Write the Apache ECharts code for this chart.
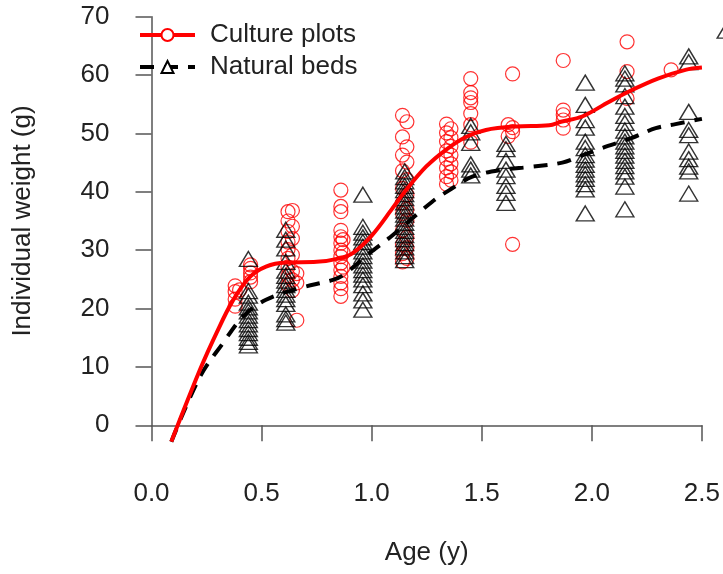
<!DOCTYPE html>
<html>
<head>
<meta charset="utf-8">
<script src="https://cdn.jsdelivr.net/npm/echarts@6/dist/echarts.min.js"></script>
<style>
  html, body { margin: 0; padding: 0; background: #fff; }
  #chart { width: 723px; height: 574px; }
</style>
</head>
<body>
<div id="chart"></div>
<script>
// x tick labels
const ageTicks = [0, 0.5, 1.0, 1.5, 2.0, 2.5]

// culture plots: [age, [weights at that age]]
const cultureGroups = [
  [0.38, [20.4, 21.6, 22.9, 23.9]],
  [0.40, [23.2]],
  [0.45, [24.6, 25.4, 26.1, 26.9, 27.5]],
  [0.62, [24.0, 25.6, 27.1, 28.6, 30.1, 31.4, 33.2, 35.0, 36.6]],
  [0.64, [23.1, 24.9, 26.4, 29.2, 32.0, 34.1, 36.8]],
  [0.66, [18.0, 24.4, 26.0]],
  [0.86, [22.1, 23.4, 24.4, 25.5, 26.6, 27.8, 28.9, 30.0, 31.2, 32.3, 33.4, 36.6, 37.5, 40.3]],
  [0.87, [27.1, 29.6, 31.8]],
  [1.14, [28.0, 29.4, 31.0, 33.4, 36.3, 38.1, 40.6, 43.6, 46.3, 49.4, 53.1]],
  [1.16, [28.6, 30.4, 32.2, 35.1, 37.0, 39.5, 42.1, 45.1, 47.7, 52.0]],
  [1.34, [41.3, 42.6, 44.1, 45.6, 47.0, 48.6, 50.1, 51.6]],
  [1.36, [42.0, 43.4, 44.8, 46.3, 47.8, 49.3, 50.8]],
  [1.45, [48.5, 51.5, 53.4, 55.3, 56.1, 57.0, 59.4]],
  [1.62, [49.5, 51.5]],
  [1.64, [60.2, 51.0, 50.3, 31.0]],
  [1.87, [50.9, 52.3, 53.2, 54.0, 62.5]],
  [2.16, [56.0, 60.6, 65.7]],
  [2.36, [60.9]]
]

// natural beds
const naturalGroups = [
  [0.44, [28.5, 23.0, 22.2, 21.0, 20.2, 19.5, 18.8, 18.0, 17.3, 16.5, 15.8, 15.0, 14.3, 13.7]],
  [0.61, [33.5, 31.8, 30.3, 28.0, 26.5, 25.6, 24.8, 24.0, 23.2, 22.4, 21.6, 20.8, 19.0, 18.2, 17.6]],
  [0.96, [39.5, 34.0, 33.0, 32.2, 31.4, 30.6, 29.8, 29.0, 28.2, 27.4, 26.6, 25.8, 25.0, 24.0, 22.6, 21.4, 19.8]],
  [1.15, [43.5, 42.5, 41.8, 41.0, 40.3, 39.6, 38.9, 38.2, 37.5, 36.8, 36.1, 35.4, 34.7, 34.0, 33.3, 32.6, 31.9, 31.2, 30.5, 29.8, 29.0, 28.3]],
  [1.45, [51.3, 50.2, 48.4, 44.7, 43.8, 42.8]],
  [1.61, [48.2, 47.3, 45.3, 43.8, 42.7, 41.0, 39.8, 38.1]],
  [1.97, [58.7, 54.9, 52.3, 51.0, 48.6, 47.5, 46.3, 45.5, 44.6, 43.8, 43.0, 42.2, 41.3, 40.4, 36.3]],
  [2.15, [60.3, 59.4, 58.4, 56.4, 54.6, 53.0, 51.8, 50.5, 49.5, 48.6, 47.8, 47.0, 46.2, 45.3, 44.4, 43.5, 42.6, 40.9, 37.0]],
  [2.44, [63.2, 62.2, 53.7, 50.6, 49.7, 46.9, 45.6, 44.3, 43.5, 39.7]],
  [2.61, [67.6]]
]

// fitted curves
const cultureCurve = [
  [0.09, -2.8], [0.22, 9.5], [0.295, 15.8], [0.37, 21.4], [0.446, 25.4], [0.52, 27.2],
  [0.61, 27.9], [0.75, 28.0], [0.854, 28.6], [0.914, 29.5], [1.0, 32.5], [1.095, 37.2],
  [1.156, 40.3], [1.247, 44.3], [1.337, 47.2], [1.428, 49.4], [1.519, 50.6], [1.655, 51.2],
  [1.806, 51.4], [1.86, 52.0], [1.956, 52.9], [2.077, 55.4], [2.18, 57.4], [2.30, 59.4],
  [2.425, 60.9], [2.5, 61.3]
]
const naturalCurve = [
  [0.09, -2.8], [0.22, 8.3], [0.325, 14.1], [0.415, 18.6], [0.52, 21.5], [0.673, 23.5],
  [0.824, 24.9], [0.87, 25.7], [0.99, 29.5], [1.08, 32.1], [1.275, 38.3], [1.366, 40.6],
  [1.457, 42.6], [1.579, 43.7], [1.73, 44.3], [1.866, 45.0], [1.94, 46.0], [2.046, 47.5],
  [2.18, 49.2], [2.29, 50.9], [2.38, 51.6], [2.5, 52.5]
]

function flatten(groups) {
  const out = []
  groups.forEach(([age, ws]) => ws.forEach(w => out.push([age, w])))
  return out
}

const font = 'Liberation Sans, Arial, Helvetica, sans-serif'
const axisColor = '#555'
const textColor = '#222'
const fs = 26

const chart = echarts.init(document.getElementById('chart'))

chart.setOption({
  animation: false,
  backgroundColor: '#fff',
  textStyle: { fontFamily: font },
  grid: { left: 151.5, right: 19.7, top: 16.7, bottom: 148.7 },
  legend: {
    orient: 'vertical',
    left: 133,
    top: 16,
    itemWidth: 55,
    itemHeight: 15,
    itemGap: 4,
    data: ['Culture plots', 'Natural beds'],
    lineStyle: { width: 4 },
    textStyle: { fontSize: fs, color: textColor, fontFamily: font, lineHeight: 28, padding: [0, 0, 0, 10] }
  },
  xAxis: {
    type: 'value',
    min: 0,
    max: 2.5,
    interval: 0.5,
    offset: 16.4,
    name: 'Age (y)',
    nameLocation: 'middle',
    nameGap: 98,
    nameTextStyle: { fontSize: fs, color: textColor, fontFamily: font },
    axisLine: { show: true, lineStyle: { color: axisColor, width: 1.5 } },
    axisTick: { show: true, length: 16, lineStyle: { color: axisColor, width: 1.5 } },
    axisLabel: {
      fontSize: fs, color: textColor, margin: 39,
      formatter: v => ageTicks.includes(v) ? v.toFixed(1) : ''
    },
    splitLine: { show: false }
  },
  yAxis: {
    type: 'value',
    min: 0,
    max: 70,
    interval: 10,
    offset: 22,
    name: 'Individual weight (g)',
    nameLocation: 'middle',
    nameGap: 94,
    nameRotate: 90,
    nameTextStyle: { fontSize: fs, color: textColor, fontFamily: font },
    axisLine: { show: true, lineStyle: { color: axisColor, width: 1.5 } },
    axisTick: { show: true, length: 16, lineStyle: { color: axisColor, width: 1.5 } },
    axisLabel: { fontSize: fs, color: textColor, margin: 20 },
    splitLine: { show: false }
  },
  series: [
    {
      name: 'Culture pts',
      type: 'scatter',
      data: flatten(cultureGroups),
      symbol: 'circle',
      symbolSize: 14,
      clip: false,
      itemStyle: { color: 'rgba(0,0,0,0)', borderColor: '#ff0000', borderWidth: 1.2 },
      z: 3
    },
    {
      name: 'Natural pts',
      type: 'scatter',
      data: flatten(naturalGroups),
      symbol: 'triangle',
      symbolSize: [18, 15],
      clip: false,
      itemStyle: { color: 'rgba(0,0,0,0)', borderColor: '#000', borderWidth: 1.4 },
      z: 3
    },
    {
      name: 'Culture plots',
      type: 'line',
      data: cultureCurve,
      smooth: 0.35,
      clip: false,
      symbol: 'circle',
      symbolSize: 14,
      showSymbol: false,
      lineStyle: { color: '#ff0000', width: 4 },
      itemStyle: { color: '#fff', borderColor: '#ff0000', borderWidth: 3.5 },
      z: 5
    },
    {
      name: 'Natural beds',
      type: 'line',
      data: naturalCurve,
      smooth: 0.35,
      clip: false,
      symbol: 'triangle',
      symbolSize: 14,
      showSymbol: false,
      lineStyle: { color: '#000', width: 4, type: [14, 10] },
      itemStyle: { color: '#fff', borderColor: '#000', borderWidth: 3 },
      z: 4
    }
  ]
})
</script>
</body>
</html>
